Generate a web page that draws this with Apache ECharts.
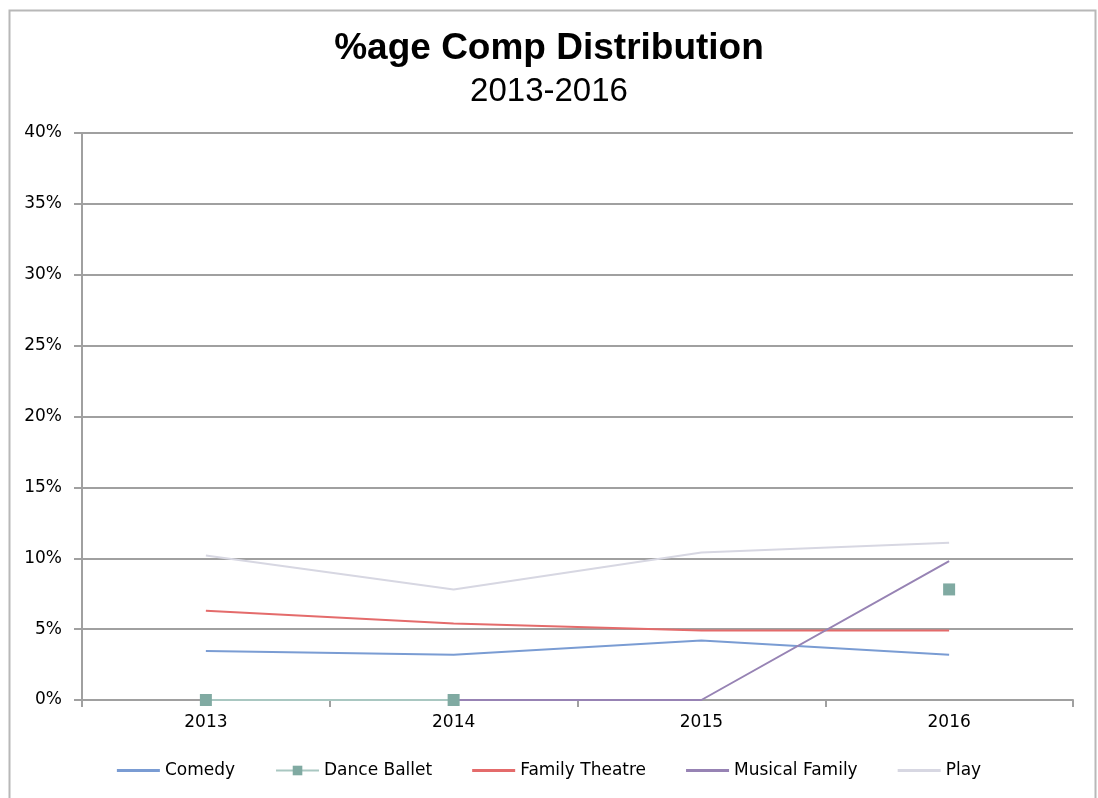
<!DOCTYPE html>
<html>
<head>
<meta charset="utf-8">
<script src="https://cdn.jsdelivr.net/npm/echarts@6/dist/echarts.min.js"></script>
<style>
html,body{margin:0;padding:0;background:#fff;}
#chart{width:1098px;height:798px;}
</style>
</head>
<body>
<div id="chart"></div>
<script>
var years = ['2013', '2014', '2015', '2016'];
var comedy = [3.45, 3.2, 4.2, 3.2];
var danceBallet = [0, 0, null, 7.8];
var familyTheatre = [6.3, 5.4, 4.9, 4.9];
var musicalFamily = [null, 0, 0, 9.8];
var play = [10.2, 7.8, 10.4, 11.1];

var chart = echarts.init(document.getElementById('chart'));
var font = '"Liberation Sans", Arial, sans-serif';
var smallFont = '"DejaVu Sans", sans-serif';
var lineIcon = 'path://M0,0 H43 V3 H0 Z';
function lineSeries(name, data, color, width) {
  return {
    name: name, type: 'line', data: data, symbol: 'none',
    lineStyle: { color: color, width: width }, itemStyle: { color: color },
    connectNulls: false, z: 3
  };
}
chart.setOption({
  animation: false,
  backgroundColor: '#fff',
  graphic: [{
    type: 'rect', left: 7, top: 8, z: -1,
    shape: { width: 1086, height: 800 },
    style: { fill: 'none', stroke: '#b8b8b8', lineWidth: 2 }
  }],
  title: {
    text: '%age Comp Distribution',
    subtext: '2013-2016',
    left: 'center', top: 25, itemGap: 8,
    textStyle: { fontFamily: font, fontSize: 37, fontWeight: 'bold', color: '#000' },
    subtextStyle: { fontFamily: font, fontSize: 33, color: '#000' }
  },
  legend: {
    bottom: 14, left: 'center', itemWidth: 43, itemHeight: 12, itemGap: 40,
    textStyle: { fontFamily: smallFont, fontSize: 17, color: '#000' },
    data: [
      { name: 'Comedy', icon: lineIcon },
      { name: 'Dance Ballet' },
      { name: 'Family Theatre', icon: lineIcon },
      { name: 'Musical Family', icon: lineIcon },
      { name: 'Play', icon: lineIcon }
    ]
  },
  grid: { left: 82, right: 25, top: 133, bottom: 98, containLabel: false },
  xAxis: {
    type: 'category', data: years, boundaryGap: true,
    axisLine: { lineStyle: { color: '#a0a0a0', width: 2 } },
    axisTick: { show: true, length: 7, lineStyle: { color: '#a0a0a0', width: 2 } },
    axisLabel: { fontFamily: smallFont, fontSize: 17, color: '#000', margin: 14 }
  },
  yAxis: {
    type: 'value', min: 0, max: 40, interval: 5,
    axisLine: { show: true, lineStyle: { color: '#a0a0a0', width: 2 } },
    axisTick: { show: true, length: 8, lineStyle: { color: '#a0a0a0', width: 2 } },
    axisLabel: { fontFamily: smallFont, fontSize: 17, color: '#000', margin: 20,
      formatter: function (v) { return v + '%'; } },
    splitLine: { lineStyle: { color: '#a0a0a0', width: 2 } }
  },
  series: [
    lineSeries('Comedy', comedy, '#7a9cd3', 2),
    {
      name: 'Dance Ballet', type: 'line', data: danceBallet,
      symbol: 'rect', symbolSize: 12, showAllSymbol: true,
      lineStyle: { color: '#a9c7c1', width: 2 },
      itemStyle: { color: '#80aaa2' }, connectNulls: false, z: 3
    },
    lineSeries('Family Theatre', familyTheatre, '#e46b6b', 2),
    lineSeries('Musical Family', musicalFamily, '#9783b4', 2),
    lineSeries('Play', play, '#d7d7e2', 2)
  ]
});
</script>
</body>
</html>
